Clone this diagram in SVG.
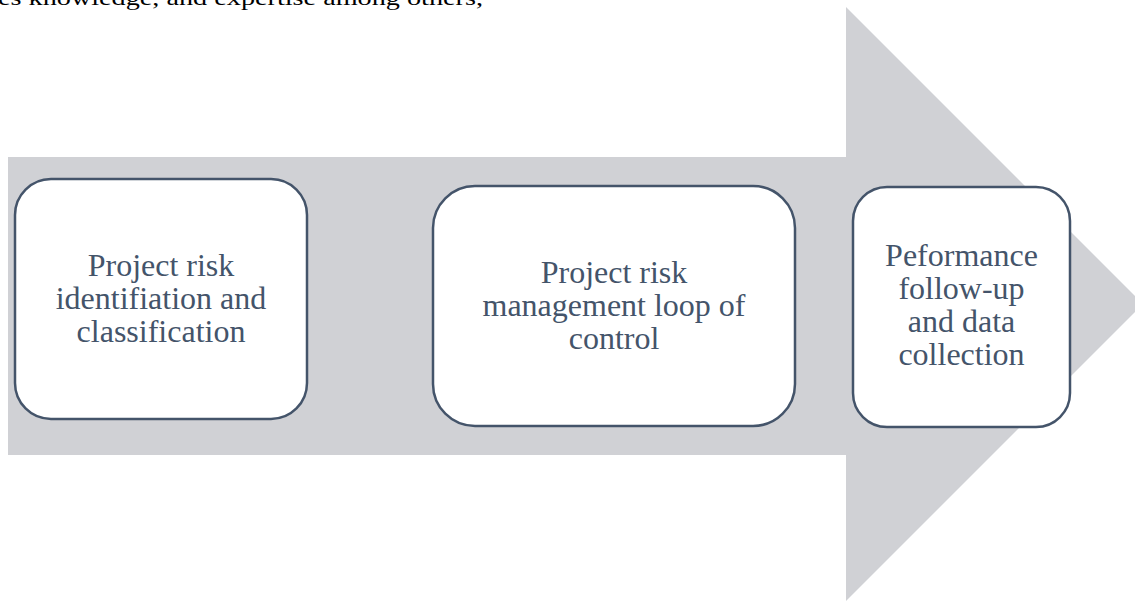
<svg xmlns="http://www.w3.org/2000/svg" width="1135" height="602" viewBox="0 0 1135 602">
  <style>
    .body { font-family: "Liberation Serif", "Times New Roman", serif; fill: #000000; }
    .step rect { fill: #ffffff; stroke: #44546a; stroke-width: 2.5; }
    .step text { font-family: "Liberation Serif", "Times New Roman", serif; font-size: 32px; fill: #44546a; text-anchor: middle; }
    .band { fill: #d0d1d5; }
  </style>
  <rect width="1135" height="602" fill="#ffffff"/>
  <!-- trailing line of the paragraph above the figure -->
  <text class="body" x="-2" y="5" font-size="21" textLength="485" lengthAdjust="spacingAndGlyphs">es knowledge, and expertise among others,</text>
  <!-- process arrow background -->
  <g id="arrow">
    <path class="band" d="M8,157 H846 V7 L1143,304 L846,601 V455 H8 Z"/>
  </g>
  <g id="connectors"></g>
  <g id="step1" class="step">
    <rect x="15" y="179" width="292" height="240" rx="36" ry="36"/>
    <text x="161" y="276">Project risk</text>
    <text x="161" y="309">identifiation and</text>
    <text x="161" y="342">classification</text>
  </g>
  <g id="step2" class="step">
    <rect x="433" y="186" width="362" height="240" rx="42" ry="42"/>
    <text x="614" y="283">Project risk</text>
    <text x="614" y="316">management loop of</text>
    <text x="614" y="349">control</text>
  </g>
  <g id="step3" class="step">
    <rect x="853" y="187" width="217" height="240" rx="34" ry="34"/>
    <text x="961.500" y="266">Peformance</text>
    <text x="961.500" y="299">follow-up</text>
    <text x="961.500" y="332">and data</text>
    <text x="961.500" y="365">collection</text>
  </g>
</svg>
